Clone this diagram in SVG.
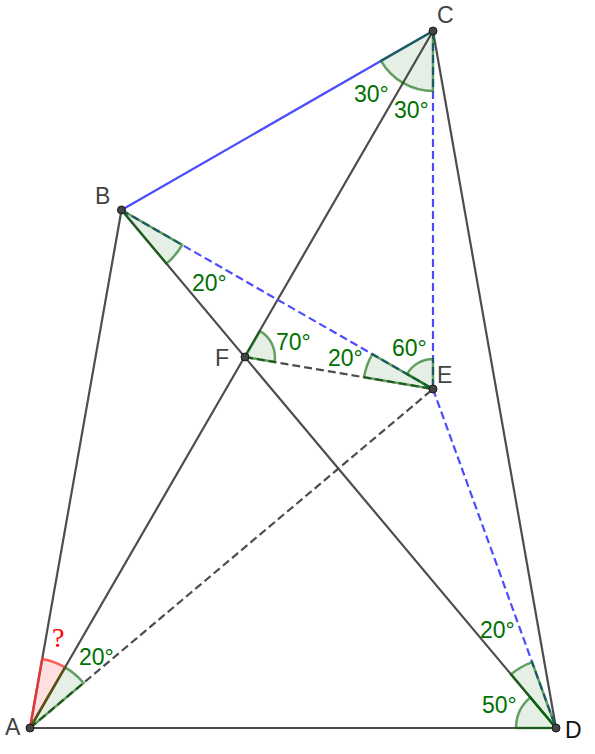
<svg xmlns="http://www.w3.org/2000/svg" width="595" height="754" viewBox="0 0 595 754">
<style>
.ln{stroke:#4d4d4d;stroke-width:2.2;fill:none;stroke-linecap:round}
.bl{stroke:#4d4dff;stroke-width:2.2;fill:none}
.dg{stroke:#4d4d4d;stroke-width:2.2;fill:none;stroke-dasharray:8 4}
.db{stroke:#4d4dff;stroke-width:2.2;fill:none;stroke-dasharray:8 4}
.sec{fill:#006400;fill-opacity:0.1;stroke:#006400;stroke-opacity:0.6;stroke-width:2.5;stroke-linejoin:round}
.red{fill:#ff0000;fill-opacity:0.12;stroke:#ff3333;stroke-opacity:0.8;stroke-width:2.5;stroke-linejoin:round}
.pt{fill:#444;stroke:#1a1a1a;stroke-width:1}
.lbl{font-family:"Liberation Sans",Arial,sans-serif;font-size:23px;fill:#444}
.ang{font-family:"Liberation Sans",Arial,sans-serif;font-size:23px;fill:#007000}
</style>
<g id="connectors">
<line class="ln" x1="30" y1="728" x2="121.5" y2="210"/>
<line class="ln" x1="30" y1="728" x2="433" y2="31"/>
<line class="ln" x1="30" y1="728" x2="556" y2="728"/>
<line class="ln" x1="121.5" y1="210" x2="556" y2="728"/>
<line class="ln" x1="433" y1="31" x2="556" y2="728"/>
<line class="bl" x1="121.5" y1="210" x2="433" y2="31"/>
<line class="dg" x1="30" y1="728" x2="433" y2="389"/>
<line class="dg" x1="245" y1="357" x2="433" y2="389"/>
<line class="db" x1="121.5" y1="210" x2="433" y2="389"/>
<line class="db" x1="433" y1="31" x2="433" y2="389"/>
<line class="db" x1="433" y1="389" x2="556" y2="728"/>
</g>
<g id="angles">
<path class="red" d="M30,728 L42.18,659.06 A70,70 0 0,1 65.04,667.40 Z"/>
<path class="sec" d="M30,728 L65.04,667.40 A70,70 0 0,1 83.56,682.94 Z"/>
<path class="sec" d="M121.5,210 L182.20,244.87 A70,70 0 0,1 166.49,263.62 Z"/>
<path class="sec" d="M433,31 L433,91 A60,60 0 0,1 380.97,60.89 Z"/>
<path class="sec" d="M556,728 L516,728 A40,40 0 0,1 530.29,697.36 Z"/>
<path class="sec" d="M556,728 L511.0,674.38 A70,70 0 0,1 532.13,662.19 Z"/>
<path class="sec" d="M433,389 L364.0,377.25 A70,70 0 0,1 372.30,354.13 Z"/>
<path class="sec" d="M433,389 L407.0,374.05 A30,30 0 0,1 433,359 Z"/>
<path class="sec" d="M245,357 L259.99,331.01 A30,30 0 0,1 274.57,362.03 Z"/>
</g>
<g id="angle-labels">
<text class="ang" x="354" y="102">30°</text>
<text class="ang" x="394" y="118">30°</text>
<text class="ang" x="192" y="291">20°</text>
<text class="ang" x="276" y="350">70°</text>
<text class="ang" x="328" y="366">20°</text>
<text class="ang" x="392" y="356">60°</text>
<text class="ang" x="79" y="665">20°</text>
<text class="ang" x="480" y="638">20°</text>
<text class="ang" x="482" y="713">50°</text>
<text x="52" y="647" style="font-family:'Liberation Serif','Times New Roman',serif;font-size:28px;fill:#ff0000">?</text>
</g>
<g id="A"><circle class="pt" cx="30" cy="728" r="4"/><text class="lbl" x="5" y="735">A</text></g>
<g id="B"><circle class="pt" cx="121.5" cy="210" r="4"/><text class="lbl" x="95" y="204">B</text></g>
<g id="C"><circle class="pt" cx="433" cy="31" r="4"/><text class="lbl" x="437" y="23">C</text></g>
<g id="D"><circle class="pt" cx="556" cy="728" r="4"/><text class="lbl" x="565" y="738" style="fill:#111">D</text></g>
<g id="E"><circle class="pt" cx="433" cy="389" r="4"/><text class="lbl" x="437" y="383">E</text></g>
<g id="F"><circle class="pt" cx="245" cy="357" r="4"/><text class="lbl" x="215" y="366">F</text></g>
</svg>
